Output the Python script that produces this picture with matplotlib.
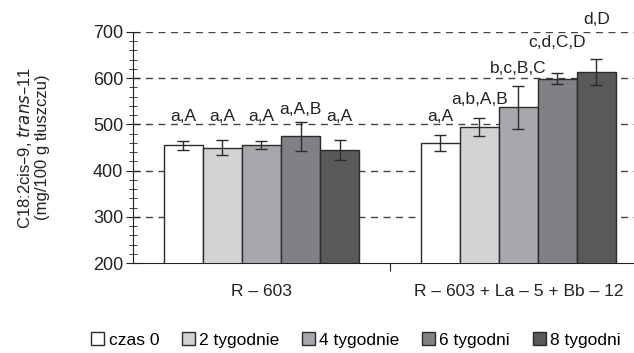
import matplotlib
matplotlib.use("Agg")
import matplotlib.pyplot as plt
import numpy as np
from matplotlib.ticker import MultipleLocator

plt.rcParams['font.family'] = ['Liberation Sans', 'DejaVu Sans']

groups = ["R – 603", "R – 603 + La – 5 + Bb – 12"]
series = ["czas 0", "2 tygodnie", "4 tygodnie", "6 tygodni", "8 tygodni"]
colors = ["#ffffff", "#d2d3d5", "#a7a8ab", "#808184", "#58595b"]
values = {
    "czas 0":     [455, 460],
    "2 tygodnie": [450, 494],
    "4 tygodnie": [456, 537],
    "6 tygodni":  [474, 599],
    "8 tygodni":  [445, 613],
}
errors = {
    "czas 0":     [10, 17],
    "2 tygodnie": [16, 19],
    "4 tygodnie": [9, 46],
    "6 tygodni":  [31, 12],
    "8 tygodni":  [21, 28],
}
labels = {
    "czas 0":     ["a,A", "a,A"],
    "2 tygodnie": ["a,A", "a,b,A,B"],
    "4 tygodnie": ["a,A", "b,c,B,C"],
    "6 tygodni":  ["a,A,B", "c,d,C,D"],
    "8 tygodni":  ["a,A", "d,D"],
}
label_y = {
    "czas 0":     [501, 501],
    "2 tygodnie": [501, 538],
    "4 tygodnie": [501, 605],
    "6 tygodni":  [516, 661],
    "8 tygodni":  [501, 711],
}

fig = plt.figure(figsize=(6.34, 3.53), dpi=100)
ax = fig.add_axes([133/634, 1-263/353, 1-133/634, (263-32)/353])

x = np.arange(len(groups))
w = 0.152
n = len(series)
for i, s in enumerate(series):
    pos = x + (i - (n-1)/2) * w
    ax.bar(pos, values[s], w, bottom=0, color=colors[i], edgecolor="#2b2b2b",
           linewidth=1.0, label=s, zorder=3)
    ax.errorbar(pos, values[s], yerr=errors[s], fmt='none', ecolor="#2b2b2b",
                elinewidth=1.0, capsize=4, capthick=1.0, zorder=4)
    for j in range(len(groups)):
        ax.text(pos[j], label_y[s][j], labels[s][j], ha='center', va='bottom',
                fontsize=12.5, color="#222222", clip_on=False, zorder=5)

ax.set_ylim(200, 700)
ax.set_xlim(-0.5, 1.45)
ax.yaxis.set_major_locator(MultipleLocator(100))
ax.yaxis.set_minor_locator(MultipleLocator(20))
for yv in range(300, 701, 100):
    ax.axhline(yv, color="#444444", linestyle=(0, (5, 4)), linewidth=1.0, zorder=1)

ax.spines['top'].set_visible(False)
ax.spines['right'].set_visible(False)
ax.spines['left'].set_color("#222222")
ax.spines['bottom'].set_color("#222222")

ax.set_xticks([0.5])
ax.set_xticklabels([""])
ax.set_xticks(x, minor=True)
ax.set_xticklabels(groups, minor=True, fontsize=12.5, color="#222222")
ax.tick_params(axis='x', which='major', length=6, direction='out', color="#222222")
ax.tick_params(axis='x', which='minor', length=0, pad=15)
ax.tick_params(axis='y', which='major', length=10, direction='inout', labelsize=13,
               color="#222222", labelcolor="#222222", pad=2)
ax.tick_params(axis='y', which='minor', length=6, direction='inout', color="#222222")

ax.set_ylabel("C18:2cis–9, $\\it{trans}$–11\n(mg/100 g tłuszczu)", fontsize=12,
              color="#222222", linespacing=1.05)
ax.yaxis.set_label_coords(-0.166, 0.5)

handles, lbls = ax.get_legend_handles_labels()
fig.legend(handles, lbls, loc='center', bbox_to_anchor=(356/634, 1-340/353), ncol=5,
           frameon=False, fontsize=12.5, handlelength=0.75, handleheight=0.75,
           handletextpad=0.25, columnspacing=1.3, borderaxespad=0)

fig.savefig("out.png", dpi=100)
